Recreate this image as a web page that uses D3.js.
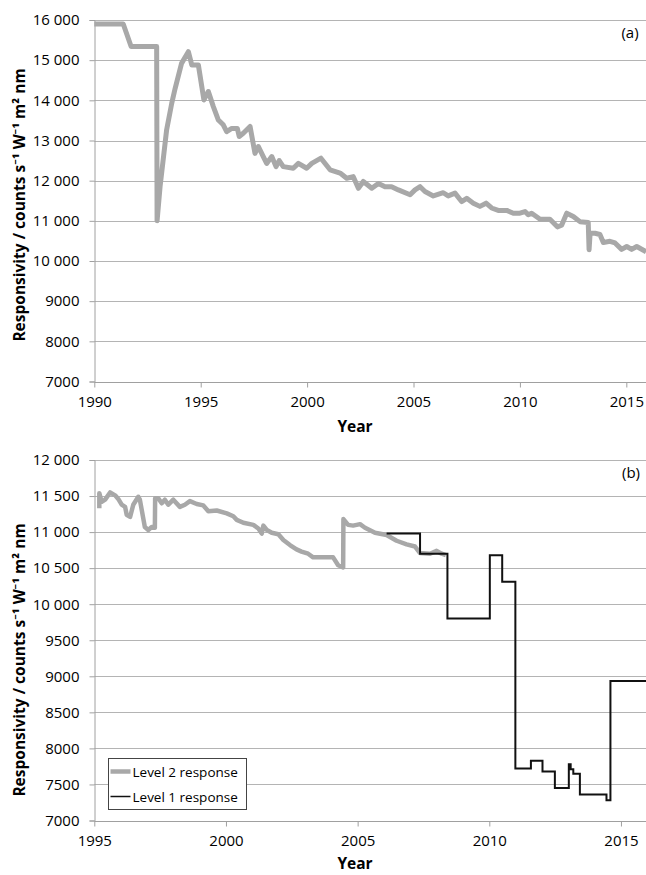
<!DOCTYPE html>
<html><head><meta charset="utf-8">
<script src="https://cdn.jsdelivr.net/npm/d3@7"></script>
<style>
html,body{margin:0;padding:0;background:#fff;}
svg{display:block;}
text{font-family:"Open Sans","Noto Sans",sans-serif;fill:#000;}
</style></head>
<body>
<svg id="chart" width="646" height="875"></svg>
<script>
// ---------- DATA ----------
const topYears = [1990,1991.36,1991.73,1992.93,1992.95,1993.09,1993.4,1993.64,1993.8,1994.1,1994.42,1994.58,1994.89,1995.15,1995.36,1995.59,1995.83,1996.06,1996.22,1996.46,1996.72,1996.81,1997.0,1997.32,1997.55,1997.71,1997.94,1998.1,1998.34,1998.54,1998.69,1998.88,1999.35,1999.59,1999.98,2000.22,2000.65,2001.08,2001.55,2001.86,2002.17,2002.41,2002.64,2003.04,2003.35,2003.66,2003.97,2004.29,2004.84,2005.07,2005.31,2005.54,2005.93,2006.4,2006.63,2006.95,2007.26,2007.5,2007.81,2008.12,2008.41,2008.67,2008.98,2009.38,2009.69,2010.0,2010.24,2010.39,2010.55,2010.95,2011.41,2011.76,2011.96,2012.2,2012.51,2012.82,2013.21,2013.25,2013.3,2013.53,2013.76,2013.92,2014.23,2014.47,2014.78,2015.02,2015.25,2015.49,2015.93];
const topValues = [15900,15900,15340,15340,11000,11850,13270,13930,14300,14920,15210,14880,14880,14010,14220,13850,13510,13390,13220,13300,13300,13100,13180,13350,12680,12850,12600,12430,12600,12350,12500,12350,12310,12430,12310,12430,12560,12270,12190,12060,12100,11810,11980,11810,11930,11850,11850,11770,11650,11770,11850,11730,11620,11700,11620,11690,11480,11560,11440,11360,11440,11320,11260,11260,11190,11190,11230,11150,11190,11040,11040,10850,10890,11190,11110,10980,10960,10280,10700,10690,10660,10460,10490,10450,10290,10360,10290,10360,10230];

const level2Years = [1995.19,1995.19,1995.28,1995.41,1995.6,1995.79,1995.91,1996.04,1996.17,1996.23,1996.36,1996.48,1996.67,1996.73,1996.92,1997.05,1997.18,1997.3,1997.31,1997.43,1997.56,1997.68,1997.81,1998.0,1998.25,1998.44,1998.63,1998.89,1999.14,1999.33,1999.65,2000.03,2000.28,2000.41,2000.66,2001.04,2001.23,2001.36,2001.42,2001.55,2001.74,2001.99,2002.18,2002.43,2002.68,2002.87,2003.12,2003.31,2004.07,2004.26,2004.45,2004.46,2004.64,2004.83,2005.09,2005.28,2005.66,2006.1,2006.48,2006.86,2007.18,2007.37,2007.75,2008.0,2008.19,2008.35];
const level2Values = [11330,11540,11420,11450,11550,11510,11460,11380,11350,11240,11210,11380,11490,11450,11070,11030,11070,11060,11470,11470,11400,11450,11380,11450,11350,11380,11430,11390,11370,11290,11300,11260,11220,11170,11130,11100,11050,10980,11090,11030,10990,10970,10890,10820,10760,10730,10700,10650,10650,10540,10510,11180,11100,11090,11110,11060,10990,10960,10880,10830,10800,10710,10700,10740,10700,10680];

const level1Years = [2006.1,2007.37,2008.41,2010.02,2010.49,2010.99,2011.58,2012.02,2012.49,2013.02,2013.09,2013.19,2013.44,2014.45,2014.6,2016];
const level1Values = [10980,10700,9800,10680,10310,7720,7830,7680,7450,7780,7710,7650,7360,7280,8935,8935];

const topYTicks = [7000,8000,9000,10000,11000,12000,13000,14000,15000,16000];
const topXTicks = [1990,1995,2000,2005,2010,2015];
const botYTicks = [7000,7500,8000,8500,9000,9500,10000,10500,11000,11500,12000];
const botXTicks = [1995,2000,2005,2010,2015];
const seriesNames = ["Level 2 response","Level 1 response"];
const yTitle = "Responsivity / counts s⁻¹ W⁻¹ m² nm";

// ---------- DRAW ----------
const svg = d3.select("#chart");
const GRID = "#b4b4b4", AXIS = "#a0a0a0", L2COL = "#a8a8a8";

function fmt(v){ return v >= 10000 ? d3.format(",")(v).replace(",", " ") : String(v); }

function panel(opts){
  const x = d3.scaleLinear().domain(opts.xDomain).range(opts.xRange);
  const y = d3.scaleLinear().domain(opts.yDomain).range(opts.yRange);
  const g = svg.append("g");
  const [x0, x1] = opts.xRange, [yb, yt] = opts.yRange;
  g.append("g").selectAll("line").data(opts.yTicks.slice(1)).join("line")
    .attr("x1", x0).attr("x2", x1 + 5)
    .attr("y1", d => Math.round(y(d)) + 0.5).attr("y2", d => Math.round(y(d)) + 0.5)
    .attr("stroke", GRID).attr("stroke-width", 1);
  const ya = d3.axisLeft(y).tickValues(opts.yTicks).tickFormat(fmt).tickSize(5).tickPadding(10);
  const yg = g.append("g").attr("transform", `translate(${Math.round(x0)+0.5},0)`).call(ya);
  yg.select(".domain").attr("stroke", AXIS);
  yg.selectAll(".tick line").attr("stroke", AXIS);
  yg.selectAll(".tick text").attr("font-size", 15).attr("font-family", '"Open Sans",sans-serif');
  const xa = d3.axisBottom(x).tickValues(opts.xTicks).tickFormat(d3.format("d")).tickSize(5).tickPadding(9).tickSizeOuter(0);
  const xg = g.append("g").attr("transform", `translate(0,${Math.round(yb)+0.5})`).call(xa);
  xg.select(".domain").attr("stroke", AXIS).attr("d", `M${x0},0H${x1+5}`);
  xg.selectAll(".tick line").attr("stroke", AXIS);
  xg.selectAll(".tick text").attr("font-size", 15).attr("font-family", '"Open Sans",sans-serif');
  g.append("text").attr("x", opts.xTitleX).attr("y", opts.xTitleY).attr("text-anchor", "middle")
    .attr("font-weight", "bold").attr("font-size", 15.5).text("Year");
  g.append("text").attr("transform", `translate(${opts.yTitleX},${opts.yTitleY}) rotate(-90)`)
    .attr("text-anchor", "middle").attr("font-weight", "bold").attr("font-size", 15.5).text(yTitle);
  g.append("text").attr("x", opts.labelX).attr("y", opts.labelY).attr("text-anchor", "middle")
    .attr("font-size", 15).text(opts.label);
  return {g, x, y};
}

// Panel (a)
const A = panel({xDomain:[1990,2016], xRange:[94.3,647.6], yDomain:[7000,16000], yRange:[381.5,20],
  yTicks: topYTicks, xTicks: topXTicks, xTitleX: 355, xTitleY: 432, yTitleX: 25, yTitleY: 205,
  label: "(a)", labelX: 630, labelY: 38});
const lineA = d3.line().x(d => A.x(d[0])).y(d => A.y(d[1]));
A.g.append("path").datum(d3.zip(topYears, topValues)).attr("d", lineA)
  .attr("fill","none").attr("stroke", L2COL).attr("stroke-width", 5)
  .attr("stroke-linejoin","round").attr("stroke-linecap","butt");

// Panel (b)
const B = panel({xDomain:[1995,2016], xRange:[94.3,647.3], yDomain:[7000,12000], yRange:[820.5,460],
  yTicks: botYTicks, xTicks: botXTicks, xTitleX: 355, xTitleY: 869, yTitleX: 25, yTitleY: 660,
  label: "(b)", labelX: 631, labelY: 478});
const lineB = d3.line().x(d => B.x(d[0])).y(d => B.y(d[1]));
B.g.append("path").datum(d3.zip(level2Years, level2Values)).attr("d", lineB)
  .attr("fill","none").attr("stroke", L2COL).attr("stroke-width", 4.5)
  .attr("stroke-linejoin","round");
const stepB = d3.line().x(d => B.x(d[0])).y(d => B.y(d[1])).curve(d3.curveStepAfter);
B.g.append("path").datum(d3.zip(level1Years, level1Values)).attr("d", stepB)
  .attr("fill","none").attr("stroke", "#111").attr("stroke-width", 2);

// Legend
const lg = svg.append("g").attr("transform","translate(108.5,758.5)");
lg.append("rect").attr("width",138).attr("height",51).attr("fill","#fff").attr("stroke","#444").attr("stroke-width",1);
const items = [{name: seriesNames[0], color: L2COL, w: 4.5}, {name: seriesNames[1], color: "#111", w: 1.5}];
items.forEach((it, i) => {
  const yy = 13 + i * 25;
  lg.append("line").attr("x1", 2).attr("x2", 22).attr("y1", yy).attr("y2", yy)
    .attr("stroke", it.color).attr("stroke-width", it.w);
  lg.append("text").attr("x", 24).attr("y", yy + 5).attr("font-size", 13.5).text(it.name);
});
</script>
</body></html>
